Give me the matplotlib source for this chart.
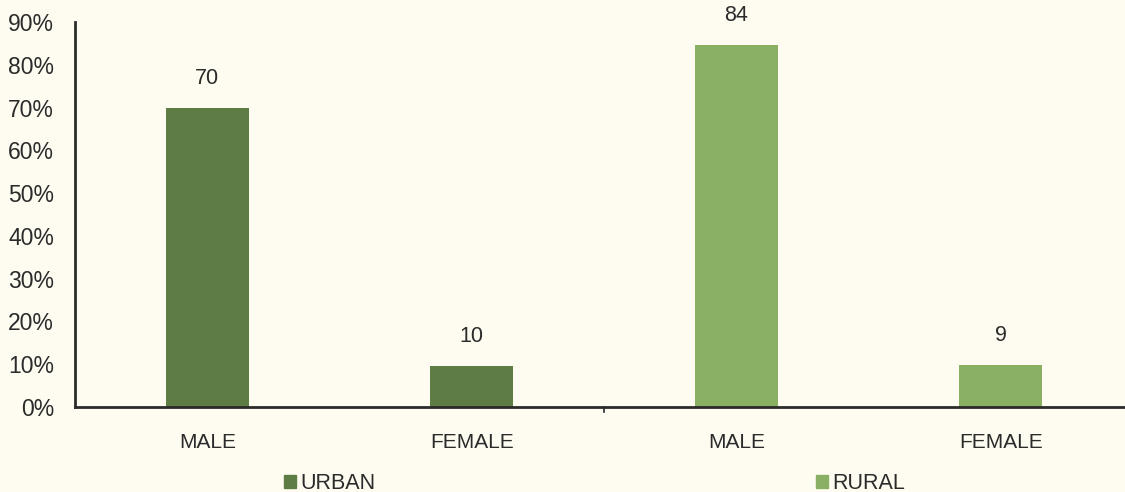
import matplotlib.pyplot as plt
from matplotlib.patches import Patch

# Data
categories = ['MALE', 'FEMALE', 'MALE', 'FEMALE']
groups = ['URBAN', 'URBAN', 'RURAL', 'RURAL']
heights = [70, 9.6, 84.5, 9.8]      # bar heights as drawn (%)
labels = ['70', '10', '84', '9']    # printed value labels
yticks = [0, 10, 20, 30, 40, 50, 60, 70, 80, 90]

group_colors = {'URBAN': '#5E7D45', 'RURAL': '#8AB063'}
bg = '#FEFBF0'
txt = '#2b2b2b'

plt.rcParams['font.family'] = ['Liberation Sans', 'DejaVu Sans']

fig = plt.figure(figsize=(11.25, 4.92), dpi=100, facecolor=bg)
ax = fig.add_axes([0.0667, 0.1728, 0.9404, 0.7826])
ax.set_facecolor(bg)

xs = list(range(len(categories)))
ax.bar(xs, heights, width=0.315, color=[group_colors[g] for g in groups])

for x, h, lab in zip(xs, heights, labels):
    ax.annotate(lab, (x, h), xytext=(0, 19), textcoords='offset pixels',
                ha='center', va='bottom', fontsize=15.5, color=txt)

ax.set_xlim(-0.5, 3.5)
ax.set_ylim(0, 90)
ax.set_yticks(yticks)
ax.set_yticklabels([f'{t}%' for t in yticks], fontsize=16.5, color=txt)
ax.set_xticks(xs)
ax.set_xticklabels(categories, fontsize=15, color=txt)
ax.tick_params(axis='y', length=0, pad=15)
ax.tick_params(axis='x', length=0, pad=19)

# single separator tick between the two groups
ax.plot([1.5, 1.5], [0, -1.2], color=txt, lw=1.2, clip_on=False)

for s in ['top', 'right']:
    ax.spines[s].set_visible(False)
ax.spines['left'].set_color(txt)
ax.spines['bottom'].set_color(txt)
ax.spines['left'].set_linewidth(2)
ax.spines['bottom'].set_linewidth(2)
ax.spines['left'].set_bounds(0, 90)

# legends, one per group
leg_kw = dict(frameon=False, fontsize=15.5, handlelength=0.55, handleheight=0.6,
              handletextpad=0.2, labelcolor=txt, borderpad=0, borderaxespad=0)
fig.legend(handles=[Patch(color=group_colors['URBAN'], label='URBAN')],
           loc='center left', bbox_to_anchor=(0.2525, 0.017), **leg_kw)
fig.legend(handles=[Patch(color=group_colors['RURAL'], label='RURAL')],
           loc='center left', bbox_to_anchor=(0.7255, 0.017), **leg_kw)

fig.savefig('out.png', dpi=100, facecolor=bg)
